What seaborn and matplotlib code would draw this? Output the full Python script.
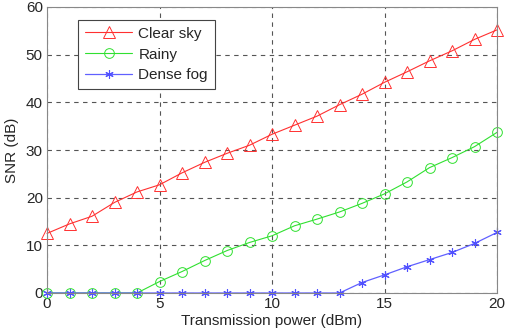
import numpy as np
import pandas as pd
import matplotlib
matplotlib.use('Agg')
import matplotlib.pyplot as plt
import seaborn as sns

# Transmission power (dBm)
power = list(range(0, 21))

# SNR (dB)
clear_sky = [12.5, 14.5, 16.1, 19.0, 21.2, 22.7, 25.2, 27.4, 29.3, 31.0, 33.3,
             35.2, 37.1, 39.5, 41.7, 44.2, 46.4, 48.7, 50.8, 53.2, 55.2]
rainy = [0, 0, 0, 0, 0, 2.4, 4.5, 6.8, 8.9, 10.6, 12.0,
         14.1, 15.5, 17.0, 18.8, 20.8, 23.3, 26.3, 28.4, 30.7, 33.7]
dense_fog = [0, 0, 0, 0, 0, 0, 0, 0, 0, 0, 0,
             0, 0, 0, 2.2, 3.8, 5.5, 7.0, 8.5, 10.4, 12.7]

sns.set_style('white')
plt.rcParams['font.family'] = ['Liberation Sans', 'DejaVu Sans']
plt.rcParams['xtick.direction'] = 'in'
plt.rcParams['ytick.direction'] = 'in'

fig = plt.figure(figsize=(5.05, 3.33), dpi=100)
ax = fig.add_axes([47 / 505, 1 - 293 / 333, 450 / 505, 286 / 333])

df = pd.DataFrame({'power': power, 'Clear sky': clear_sky,
                   'Rainy': rainy, 'Dense fog': dense_fog})

sns.lineplot(data=df, x='power', y='Clear sky', ax=ax, color='#ff3030', lw=0.8,
             marker='^', markersize=9, markerfacecolor='none',
             markeredgecolor='#ff3030', markeredgewidth=0.7, label='Clear sky',
             clip_on=False)
sns.lineplot(data=df, x='power', y='Rainy', ax=ax, color='#30e030', lw=0.8,
             marker='o', markersize=7, markerfacecolor='none',
             markeredgecolor='#30e030', markeredgewidth=0.7, label='Rainy',
             clip_on=False)
sns.lineplot(data=df, x='power', y='Dense fog', ax=ax, color='#6060ff', lw=0.9,
             marker=(6, 2, 0), markersize=6, markerfacecolor='#0000ff',
             markeredgecolor='#5050ff', markeredgewidth=0.8, label='Dense fog',
             clip_on=False)

ax.set_xlim(0, 20)
ax.set_ylim(0, 60)
ax.set_xticks([0, 5, 10, 15, 20])
ax.set_yticks([0, 10, 20, 30, 40, 50, 60])
ax.grid(True, linestyle=(0, (4, 4)), color='#555555', lw=0.8)
ax.tick_params(labelsize=11, length=0, pad=3)
for s in ax.spines.values():
    s.set_color('#888888')
    s.set_linewidth(0.8)

ax.set_xlabel('Transmission power (dBm)', fontsize=11, labelpad=2)
ax.set_ylabel('SNR (dB)', fontsize=11, labelpad=5)

leg = ax.legend(loc='upper left', bbox_to_anchor=(0.069, 0.955), fontsize=11,
                fancybox=False, framealpha=1, edgecolor='#444444',
                handlelength=3.1, borderpad=0.45, labelspacing=0.45,
                handletextpad=0.4, borderaxespad=0)
leg.get_frame().set_linewidth(0.8)

fig.savefig('out.png', dpi=100)
